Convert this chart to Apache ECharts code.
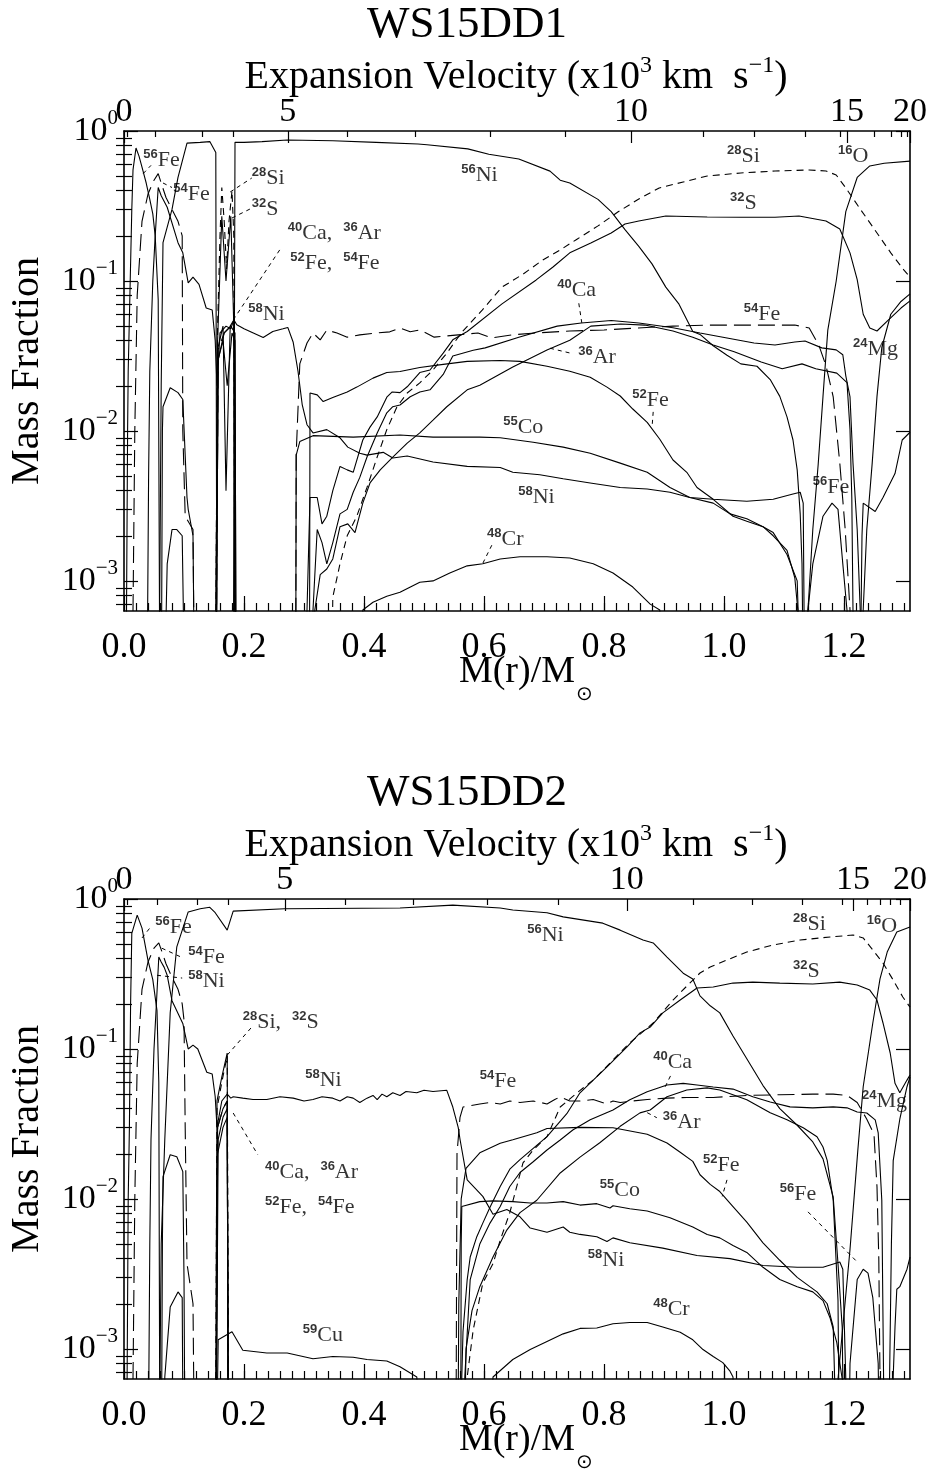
<!DOCTYPE html>
<html>
<head>
<meta charset="utf-8">
<script src="https://cdn.jsdelivr.net/npm/echarts@6/dist/echarts.min.js"></script>
<style>
html,body{margin:0;padding:0;background:#fff;}
#chart{width:935px;height:1473px;}
</style>
</head>
<body>
<div id="chart"></div>
<script>
// ---------------- axis values ----------------
const massRange = [0, 1.31];
const fracRange = [6.3e-4, 1];
const massTicks = [0, 0.2, 0.4, 0.6, 0.8, 1.0, 1.2];
const fracDecades = [1e-3, 1e-2, 1e-1, 1];
const velLabels = ['0', '5', '10', '15', '20'];
// mass coordinate of each labelled velocity (x10^3 km/s)
const velMassTop = [0, 0.273, 0.845, 1.205, 1.31];
const velMinorMassTop = [0.005, 0.052, 0.13, 0.182, 0.372, 0.485, 0.61, 0.735, 0.965, 1.05, 1.135, 1.193, 1.25, 1.278, 1.295, 1.305];
const velMassBot = [0, 0.268, 0.838, 1.215, 1.31];
const velMinorMassBot = [0.005, 0.055, 0.122, 0.173, 0.368, 0.482, 0.605, 0.723, 0.948, 1.047, 1.13, 1.197, 1.238, 1.26, 1.277, 1.293];

// ---------------- WS15DD1 abundances [M(r)/Msun, mass fraction] ----------------
const top_Ni56 = [[0.058,1e-4],[0.062,0.02],[0.065,0.18],[0.08,0.30],[0.09,0.49],[0.105,0.83],[0.127,0.84],[0.143,0.85],[0.153,0.72],[0.155,1e-4],
 [0.182,1e-4],[0.185,0.84],[0.2,0.84],[0.23,0.85],[0.272,0.87],[0.348,0.86],[0.42,0.84],[0.49,0.82],[0.505,0.81],[0.573,0.76],[0.608,0.70],[0.658,0.65],[0.71,0.54],[0.727,0.47],[0.743,0.45],[0.79,0.35],[0.812,0.29],[0.835,0.22],[0.858,0.17],[0.88,0.13],[0.903,0.091],[0.925,0.07],[0.948,0.046],[0.96,0.044],[0.982,0.037],[1.005,0.032],[1.028,0.028],[1.055,0.027],[1.077,0.022],[1.093,0.017],[1.105,0.0124],[1.115,0.0087],[1.122,0.0055],[1.127,0.0028],[1.13,0.0013],[1.133,1e-4]];
const top_Si28 = [[0.152,1e-4],[0.156,0.05],[0.16,0.2],[0.163,0.42],[0.167,0.25],[0.171,0.12],[0.175,0.25],[0.18,0.4],[0.183,0.2],[0.185,1e-4],
 [0.345,1e-4],[0.348,7.8e-4],[0.36,0.0013],[0.372,0.002],[0.388,0.0027],[0.405,0.0042],[0.422,0.0067],[0.438,0.0102],[0.455,0.0145],[0.472,0.0179],[0.493,0.0209],[0.515,0.0255],[0.538,0.033],[0.562,0.045],[0.597,0.064],[0.63,0.091],[0.665,0.111],[0.698,0.138],[0.727,0.161],[0.755,0.19],[0.79,0.233],[0.823,0.288],[0.858,0.352],[0.892,0.417],[0.932,0.457],[0.972,0.501],[1.028,0.525],[1.085,0.541],[1.142,0.55],[1.17,0.541],[1.187,0.509],[1.203,0.417],[1.227,0.302],[1.255,0.209],[1.278,0.154],[1.3,0.118],[1.31,0.106]];
const top_S32 = [[0.152,1e-4],[0.156,0.04],[0.163,0.27],[0.17,0.1],[0.178,0.27],[0.183,0.05],[0.185,1e-4],
 [0.304,1e-4],[0.305,6.4e-4],[0.31,0.0036],[0.322,0.0036],[0.33,0.0024],[0.338,0.0027],[0.348,0.004],[0.36,0.0058],[0.372,0.0055],[0.382,0.0053],[0.398,0.0087],[0.41,0.0106],[0.422,0.0124],[0.438,0.0168],[0.447,0.0182],[0.46,0.018],[0.472,0.0197],[0.493,0.0245],[0.51,0.0255],[0.532,0.033],[0.548,0.0405],[0.572,0.046],[0.63,0.0703],[0.687,0.1016],[0.715,0.124],[0.743,0.154],[0.778,0.179],[0.812,0.209],[0.835,0.24],[0.858,0.251],[0.903,0.271],[0.972,0.267],[1.028,0.266],[1.085,0.266],[1.125,0.271],[1.17,0.251],[1.193,0.222],[1.21,0.154],[1.222,0.102],[1.232,0.06],[1.243,0.0486],[1.255,0.0464],[1.272,0.054],[1.295,0.066],[1.31,0.0736]];
const top_Ca40 = [[0.152,1e-4],[0.156,0.035],[0.165,0.05],[0.17,0.004],[0.177,0.05],[0.183,0.055],[0.186,1e-4],
 [0.314,1e-4],[0.315,6.4e-4],[0.322,0.0022],[0.33,0.0018],[0.338,0.0013],[0.348,0.0018],[0.36,0.0028],[0.372,0.003],[0.382,0.0039],[0.393,0.0049],[0.405,0.0067],[0.422,0.0097],[0.438,0.0132],[0.448,0.0145],[0.46,0.0149],[0.477,0.0169],[0.493,0.0182],[0.51,0.0188],[0.532,0.0238],[0.548,0.0316],[0.582,0.0345],[0.602,0.0358],[0.658,0.0422],[0.722,0.05],[0.762,0.0525],[0.812,0.0545],[0.858,0.0525],[0.915,0.0487],[0.96,0.045],[1.005,0.0417],[1.05,0.0386],[1.085,0.0374],[1.118,0.0392],[1.135,0.0398],[1.163,0.0358],[1.187,0.0347],[1.198,0.0322],[1.203,0.0233],[1.21,0.0169],[1.215,0.0061],[1.222,0.0022],[1.227,6.4e-4],[1.23,1e-4]];
const top_Ar36 = [[0.153,1e-4],[0.157,0.03],[0.167,0.045],[0.178,0.05],[0.185,0.045],[0.187,1e-4],
 [0.317,1e-4],[0.318,6.4e-4],[0.327,0.0011],[0.338,0.0012],[0.348,0.0014],[0.36,0.0023],[0.373,0.0024],[0.385,0.0021],[0.398,0.0033],[0.41,0.0045],[0.427,0.0055],[0.448,0.0067],[0.472,0.0083],[0.493,0.0097],[0.515,0.0118],[0.538,0.0145],[0.572,0.0188],[0.593,0.0202],[0.648,0.0267],[0.705,0.0346],[0.743,0.0402],[0.778,0.05],[0.828,0.0516],[0.868,0.0508],[0.915,0.0464],[0.948,0.0422],[0.982,0.0374],[1.017,0.0337],[1.062,0.0288],[1.097,0.026],[1.13,0.028],[1.153,0.026],[1.188,0.0243],[1.205,0.021],[1.21,0.0102],[1.213,0.0036],[1.215,6.4e-4],[1.218,1e-4]];
const top_Fe52 = [[0.153,1e-4],[0.157,0.03],[0.165,0.04],[0.172,0.02],[0.18,0.045],[0.185,0.04],[0.187,1e-4],
 [0.309,1e-4],[0.31,0.0179],[0.322,0.0174],[0.332,0.0157],[0.348,0.0167],[0.372,0.0182],[0.388,0.0196],[0.415,0.0225],[0.438,0.0245],[0.46,0.0249],[0.493,0.0265],[0.532,0.0278],[0.572,0.0291],[0.627,0.0295],[0.66,0.0291],[0.705,0.027],[0.743,0.025],[0.777,0.0228],[0.805,0.0196],[0.827,0.0171],[0.848,0.014],[0.872,0.0114],[0.893,0.0088],[0.915,0.0064],[0.938,0.0053],[0.955,0.0042],[0.982,0.0035],[1.015,0.0027],[1.038,0.0025],[1.065,0.0023],[1.082,0.002],[1.105,0.0016],[1.118,0.00105],[1.123,6.4e-4],[1.126,1e-4]];
const top_Fe54 = [[0.013,1e-4],[0.018,0.01],[0.022,0.08],[0.03,0.25],[0.04,0.38],[0.05,0.47],[0.057,0.52],[0.062,0.45],[0.07,0.36],[0.08,0.3],[0.09,0.25],[0.097,0.2],[0.098,0.01],[0.102,0.0027],[0.115,0.0022],[0.118,1e-4],
 [0.153,1e-4],[0.157,0.035],[0.167,0.045],[0.178,0.05],[0.184,0.045],[0.186,1e-4],
 [0.286,1e-4],[0.287,0.007],[0.293,0.028],[0.305,0.0386],[0.315,0.045],[0.327,0.0405],[0.338,0.047],[0.355,0.045],[0.372,0.0422],[0.393,0.0437],[0.422,0.045],[0.443,0.0458],[0.46,0.0486],[0.477,0.0458],[0.493,0.0472],[0.517,0.0422],[0.557,0.0437],[0.59,0.045],[0.613,0.0417],[0.647,0.0437],[0.687,0.045],[0.743,0.0464],[0.8,0.0471],[0.857,0.0486],[0.915,0.05],[0.972,0.0508],[1.028,0.0508],[1.085,0.0508],[1.118,0.0508],[1.142,0.0486],[1.158,0.0374],[1.17,0.0272],[1.182,0.0169],[1.193,0.0061],[1.202,0.0022],[1.21,6.4e-4],[1.213,1e-4]];
const top_Ni58 = [[0.038,1e-4],[0.041,0.005],[0.043,0.025],[0.048,0.1],[0.052,0.2],[0.057,0.42],[0.062,0.37],[0.072,0.31],[0.09,0.18],[0.098,0.154],[0.107,0.097],[0.115,0.106],[0.125,0.095],[0.137,0.066],[0.147,0.064],[0.152,0.04],[0.155,0.02],[0.16,0.045],[0.17,0.05],[0.178,0.048],[0.183,0.055],[0.188,0.051],[0.2,0.048],[0.232,0.042],[0.248,0.046],[0.265,0.048],[0.273,0.049],[0.282,0.039],[0.29,0.025],[0.297,0.015],[0.305,0.011],[0.315,0.0097],[0.338,0.0102],[0.36,0.009],[0.373,0.0078],[0.393,0.0071],[0.405,0.0069],[0.432,0.0072],[0.448,0.0066],[0.472,0.0068],[0.515,0.0062],[0.572,0.0058],[0.627,0.0057],[0.648,0.0053],[0.693,0.0051],[0.732,0.0048],[0.777,0.0045],[0.827,0.0042],[0.872,0.0041],[0.91,0.0039],[0.943,0.0036],[0.982,0.0035],[1.038,0.0034],[1.082,0.0035],[1.115,0.0038],[1.127,0.0039],[1.132,0.0033],[1.135,1e-4]];
const top_Co55 = [[0.286,1e-4],[0.287,0.0069],[0.293,0.0085],[0.315,0.0093],[0.382,0.0091],[0.46,0.0094],[0.515,0.0091],[0.593,0.0091],[0.627,0.009],[0.682,0.0084],[0.732,0.0078],[0.777,0.0071],[0.827,0.0061],[0.872,0.0053],[0.91,0.0042],[0.943,0.0036],[0.982,0.0033],[1.01,0.0028],[1.038,0.0026],[1.065,0.0023],[1.082,0.0021],[1.105,0.0015],[1.122,0.001],[1.13,1e-4]];
const top_Cr48 = [[0.39,1e-4],[0.398,6.4e-4],[0.415,7.2e-4],[0.438,7.9e-4],[0.46,8.4e-4],[0.493,9.8e-4],[0.515,1.0e-3],[0.543,1.13e-3],[0.572,1.26e-3],[0.598,1.3e-3],[0.627,1.4e-3],[0.66,1.45e-3],[0.705,1.45e-3],[0.743,1.42e-3],[0.782,1.3e-3],[0.815,1.13e-3],[0.848,9.1e-4],[0.877,7.0e-4],[0.893,6.4e-4],[0.9,1e-4]];
const top_Fe56 = [[0.003,1e-4],[0.006,0.01],[0.007,0.025],[0.013,0.3],[0.015,0.55],[0.02,0.77],[0.025,0.68],[0.03,0.575],[0.037,0.45],[0.043,0.35],[0.048,0.28],[0.052,0.2],[0.057,0.075],[0.06,1e-4],
 [1.136,1e-4],[1.14,6.4e-4],[1.148,0.0013],[1.165,0.0027],[1.18,0.0033],[1.19,0.003],[1.198,0.0013],[1.205,6.4e-4],[1.21,1e-4]];
const top_O16 = [[1.135,1e-4],[1.14,6.4e-4],[1.148,0.0022],[1.157,0.006],[1.165,0.017],[1.173,0.047],[1.187,0.10],[1.203,0.29],[1.222,0.49],[1.243,0.585],[1.267,0.61],[1.31,0.63]];
const top_Mg24 = [[1.228,1e-4],[1.232,6.4e-4],[1.238,0.0022],[1.247,0.0061],[1.255,0.017],[1.263,0.036],[1.278,0.06],[1.295,0.073],[1.31,0.082]];
const top_minorA = [[0.062,1e-4],[0.064,0.01],[0.065,0.0145],[0.077,0.0194],[0.09,0.018],[0.098,0.0162],[0.105,0.0036],[0.107,0.003],[0.115,0.002],[0.118,1e-4]];
const top_minorB = [[0.066,1e-4],[0.072,0.0013],[0.08,0.0022],[0.088,0.0022],[0.097,0.002],[0.102,1e-4]];
const top_minorC = [[1.226,1e-4],[1.23,0.002],[1.232,0.0033],[1.252,0.0029],[1.265,0.0036],[1.285,0.0052],[1.297,0.0087],[1.31,0.0098]];

// ---------------- WS15DD2 abundances ----------------
const bot_Ni56 = [[0.058,1e-4],[0.062,0.005],[0.068,0.025],[0.077,0.174],[0.088,0.48],[0.107,0.82],[0.127,0.86],[0.143,0.88],[0.152,0.81],[0.172,0.62],[0.182,0.83],[0.268,0.86],[0.46,0.87],[0.548,0.91],[0.627,0.87],[0.648,0.845],[0.705,0.81],[0.732,0.76],[0.798,0.69],[0.827,0.62],[0.865,0.533],[0.882,0.509],[0.905,0.41],[0.932,0.32],[0.948,0.293],[0.96,0.226],[0.977,0.194],[0.993,0.174],[1.015,0.122],[1.038,0.086],[1.065,0.057],[1.093,0.04],[1.122,0.031],[1.148,0.024],[1.165,0.0185],[1.182,0.0103],[1.19,0.0037],[1.197,0.0014],[1.198,6.3e-4],[1.2,1e-4]];
const bot_Si28 = [[0.152,1e-4],[0.155,0.04],[0.163,0.06],[0.172,0.09],[0.175,1e-4],
 [0.57,1e-4],[0.572,6.5e-4],[0.582,0.00134],[0.598,0.00275],[0.615,0.0037],[0.627,0.0053],[0.643,0.0081],[0.665,0.0174],[0.682,0.0212],[0.705,0.026],[0.727,0.041],[0.755,0.051],[0.782,0.062],[0.815,0.0845],[0.843,0.11],[0.882,0.149],[0.915,0.212],[0.943,0.275],[0.96,0.321],[0.977,0.352],[1.005,0.392],[1.038,0.443],[1.082,0.494],[1.127,0.533],[1.177,0.558],[1.215,0.575],[1.232,0.55],[1.248,0.457],[1.265,0.374],[1.282,0.288],[1.298,0.222],[1.31,0.19]];
const bot_S32 = [[0.152,1e-4],[0.155,0.045],[0.163,0.065],[0.172,0.094],[0.174,1e-4],
 [0.562,1e-4],[0.563,6.5e-4],[0.565,0.0013],[0.572,0.0029],[0.577,0.0041],[0.588,0.0056],[0.598,0.0069],[0.61,0.0088],[0.627,0.0121],[0.643,0.0158],[0.66,0.0183],[0.705,0.026],[0.738,0.037],[0.76,0.051],[0.805,0.076],[0.838,0.103],[0.86,0.128],[0.877,0.14],[0.898,0.174],[0.927,0.212],[0.955,0.255],[0.982,0.259],[1.015,0.275],[1.048,0.279],[1.093,0.275],[1.148,0.271],[1.193,0.279],[1.222,0.267],[1.243,0.247],[1.255,0.212],[1.265,0.149],[1.277,0.094],[1.285,0.059],[1.293,0.051],[1.305,0.062],[1.31,0.067]];
const bot_Ca40 = [[0.153,1e-4],[0.156,0.03],[0.165,0.04],[0.172,0.045],[0.174,1e-4],
 [0.567,1e-4],[0.568,6.5e-4],[0.577,0.0029],[0.593,0.005],[0.61,0.0069],[0.627,0.0089],[0.643,0.0121],[0.66,0.015],[0.682,0.0177],[0.705,0.0212],[0.727,0.0247],[0.748,0.0288],[0.777,0.0337],[0.815,0.0392],[0.843,0.0458],[0.872,0.0518],[0.905,0.0575],[0.932,0.059],[0.955,0.0575],[0.982,0.0558],[1.015,0.054],[1.048,0.048],[1.077,0.0443],[1.11,0.0411],[1.148,0.0405],[1.182,0.0411],[1.205,0.0405],[1.222,0.038],[1.238,0.0374],[1.252,0.0337],[1.257,0.0276],[1.263,0.0098],[1.268,1e-4]];
const bot_Ar36 = [[0.153,1e-4],[0.157,0.025],[0.165,0.035],[0.172,0.04],[0.174,1e-4],
 [0.566,1e-4],[0.57,0.001],[0.58,0.0018],[0.593,0.0026],[0.615,0.0041],[0.638,0.0062],[0.66,0.0081],[0.688,0.0098],[0.727,0.0149],[0.76,0.019],[0.793,0.0237],[0.827,0.0305],[0.86,0.0375],[0.877,0.0392],[0.905,0.048],[0.938,0.0533],[0.972,0.055],[0.993,0.0533],[1.038,0.0458],[1.077,0.0375],[1.105,0.0337],[1.132,0.0298],[1.155,0.026],[1.165,0.0222],[1.172,0.0181],[1.182,0.0098],[1.19,0.0021],[1.193,1e-4]];
const bot_Fe52 = [[0.153,1e-4],[0.156,0.02],[0.165,0.03],[0.172,0.035],[0.174,1e-4],
 [0.556,1e-4],[0.558,0.002],[0.562,0.01],[0.57,0.016],[0.593,0.0203],[0.627,0.0235],[0.648,0.0248],[0.688,0.0276],[0.705,0.0295],[0.76,0.03],[0.815,0.0298],[0.872,0.027],[0.905,0.0236],[0.927,0.0205],[0.948,0.0178],[0.96,0.0145],[0.977,0.0125],[0.993,0.0112],[1.015,0.0089],[1.038,0.007],[1.065,0.0051],[1.093,0.0039],[1.122,0.003],[1.143,0.0026],[1.155,0.0024],[1.172,0.002],[1.182,0.0014],[1.19,1e-4]];
const bot_Fe54 = [[0.013,1e-4],[0.018,0.01],[0.022,0.08],[0.03,0.25],[0.04,0.38],[0.05,0.47],[0.058,0.51],[0.062,0.46],[0.07,0.37],[0.08,0.3],[0.09,0.25],[0.097,0.2],[0.1,0.156],[0.102,0.03],[0.105,0.0037],[0.115,0.002],[0.118,1e-4],
 [0.153,1e-4],[0.156,0.03],[0.165,0.04],[0.172,0.045],[0.174,1e-4],
 [0.553,1e-4],[0.555,0.02],[0.56,0.035],[0.565,0.041],[0.593,0.043],[0.61,0.044],[0.627,0.043],[0.643,0.045],[0.66,0.044],[0.682,0.045],[0.705,0.043],[0.718,0.046],[0.727,0.048],[0.743,0.045],[0.76,0.045],[0.782,0.046],[0.805,0.043],[0.815,0.045],[0.827,0.044],[0.848,0.045],[0.872,0.046],[0.905,0.047],[0.938,0.0475],[0.982,0.0475],[1.038,0.049],[1.093,0.0495],[1.148,0.05],[1.182,0.05],[1.205,0.049],[1.222,0.044],[1.238,0.034],[1.25,0.027],[1.255,0.012],[1.258,0.004],[1.262,1e-4]];
const bot_Ni58 = [[0.04,1e-4],[0.043,0.005],[0.045,0.025],[0.05,0.1],[0.054,0.2],[0.058,0.41],[0.062,0.38],[0.067,0.35],[0.072,0.31],[0.08,0.21],[0.098,0.148],[0.107,0.1],[0.115,0.106],[0.123,0.1],[0.138,0.07],[0.147,0.068],[0.152,0.048],[0.155,0.03],[0.163,0.045],[0.172,0.05],[0.178,0.047],[0.182,0.048],[0.198,0.047],[0.215,0.046],[0.238,0.046],[0.26,0.048],[0.282,0.047],[0.3,0.045],[0.315,0.046],[0.33,0.048],[0.348,0.047],[0.36,0.045],[0.372,0.048],[0.382,0.047],[0.393,0.044],[0.405,0.047],[0.415,0.049],[0.422,0.046],[0.43,0.05],[0.438,0.048],[0.448,0.051],[0.46,0.049],[0.47,0.052],[0.488,0.051],[0.5,0.053],[0.515,0.052],[0.538,0.053],[0.548,0.041],[0.557,0.03],[0.56,0.025],[0.572,0.0134],[0.598,0.0104],[0.615,0.0079],[0.638,0.0085],[0.66,0.0076],[0.677,0.0064],[0.705,0.006],[0.732,0.0065],[0.743,0.006],[0.76,0.0058],[0.788,0.0056],[0.805,0.0052],[0.815,0.0055],[0.843,0.0051],[0.898,0.0047],[0.955,0.0042],[1.01,0.004],[1.065,0.0036],[1.122,0.0035],[1.165,0.0035],[1.193,0.0038],[1.198,0.0034],[1.203,6.3e-4],[1.205,1e-4]];
const bot_Co55 = [[0.561,1e-4],[0.562,0.005],[0.563,0.0089],[0.593,0.0096],[0.615,0.0097],[0.648,0.0096],[0.677,0.0094],[0.705,0.0094],[0.732,0.0096],[0.76,0.0091],[0.788,0.0093],[0.81,0.0087],[0.815,0.009],[0.843,0.0086],[0.872,0.0083],[0.91,0.0075],[0.948,0.0065],[0.972,0.0058],[0.993,0.0055],[1.015,0.0049],[1.038,0.0044],[1.065,0.0035],[1.093,0.0029],[1.122,0.0026],[1.148,0.0024],[1.165,0.0021],[1.177,0.0016],[1.188,0.0011],[1.197,6.3e-4],[1.2,1e-4]];
const bot_Cr48 = [[0.605,1e-4],[0.615,6.5e-4],[0.648,8.5e-4],[0.677,9.9e-4],[0.705,0.00112],[0.732,0.00126],[0.76,0.00137],[0.788,0.00138],[0.815,0.00147],[0.843,0.0015],[0.872,0.0015],[0.898,0.0014],[0.927,0.00129],[0.948,0.00115],[0.965,0.00099],[0.982,0.00089],[0.998,0.00081],[1.01,0.00071],[1.015,0.00065],[1.02,1e-4]];
const bot_Fe56 = [[0.004,1e-4],[0.007,0.01],[0.009,0.03],[0.011,0.2],[0.013,0.59],[0.022,0.78],[0.03,0.64],[0.04,0.39],[0.048,0.29],[0.055,0.18],[0.058,0.06],[0.06,1e-4],
 [1.207,1e-4],[1.21,8e-4],[1.222,0.0029],[1.232,0.0034],[1.24,0.0032],[1.248,0.0022],[1.257,8e-4],[1.26,1e-4]];
const bot_O16 = [[1.185,1e-4],[1.19,6.3e-4],[1.21,0.0046],[1.223,0.021],[1.232,0.056],[1.248,0.149],[1.26,0.293],[1.272,0.443],[1.288,0.603],[1.31,0.65]];
const bot_Mg24 = [[1.272,1e-4],[1.276,6.5e-4],[1.279,0.005],[1.282,0.018],[1.293,0.034],[1.305,0.056],[1.31,0.065]];
const bot_Cu59 = [[0.153,1e-4],[0.157,0.00115],[0.18,0.0013],[0.198,0.00098],[0.238,0.00094],[0.272,0.00094],[0.315,0.00086],[0.348,0.00089],[0.382,0.00088],[0.405,0.00085],[0.438,0.00083],[0.46,0.00076],[0.488,0.00065],[0.5,1e-4]];
const bot_minorA = [[0.062,1e-4],[0.064,0.005],[0.065,0.0141],[0.077,0.0197],[0.088,0.0191],[0.098,0.0152],[0.1,0.003],[0.102,1e-4]];
const bot_minorB = [[0.066,1e-4],[0.068,6.5e-4],[0.077,0.0019],[0.09,0.0024],[0.097,0.0022],[0.099,1e-4]];
const bot_minorC = [[1.28,1e-4],[1.282,6.5e-4],[1.285,0.0014],[1.288,0.0025],[1.293,0.0026],[1.305,0.0034],[1.31,0.0041]];

// ---------------- curve labels: [mass, fraction, [[A, symbol], ...]] ----------------
const topLabels = [
  [0.032, 0.64, [['56','Fe']]], [0.082, 0.38, [['54','Fe']]],
  [0.213, 0.486, [['28','Si']]], [0.213, 0.302, [['32','S']]],
  [0.273, 0.209, [['40','Ca,  '],['36','Ar']]], [0.277, 0.132, [['52','Fe,  '],['54','Fe']]],
  [0.207, 0.0603, [['58','Ni']]], [0.562, 0.509, [['56','Ni']]],
  [1.005, 0.681, [['28','Si']]], [1.19, 0.681, [['16','O']]], [1.01, 0.331, [['32','S']]],
  [0.722, 0.087, [['40','Ca']]], [1.033, 0.0603, [['54','Fe']]], [0.757, 0.0311, [['36','Ar']]],
  [1.215, 0.0352, [['24','Mg']]], [0.847, 0.0161, [['52','Fe']]], [0.632, 0.0106, [['55','Co']]],
  [0.657, 0.00363, [['58','Ni']]], [0.605, 0.0019, [['48','Cr']]], [1.148, 0.00423, [['56','Fe']]]
];
const botLabels = [
  [0.052, 0.65, [['56','Fe']]], [0.107, 0.41, [['54','Fe']]], [0.107, 0.284, [['58','Ni']]],
  [0.198, 0.151, [['28','Si,  '],['32','S']]], [0.302, 0.0621, [['58','Ni']]], [0.593, 0.0612, [['54','Fe']]],
  [0.235, 0.0151, [['40','Ca,  '],['36','Ar']]], [0.235, 0.00885, [['52','Fe,  '],['54','Fe']]],
  [0.298, 0.00124, [['59','Cu']]], [0.672, 0.575, [['56','Ni']]],
  [1.115, 0.681, [['28','Si']]], [1.238, 0.66, [['16','O']]], [1.115, 0.331, [['32','S']]],
  [0.882, 0.0819, [['40','Ca']]], [0.898, 0.0326, [['36','Ar']]], [1.23, 0.045, [['24','Mg']]],
  [0.965, 0.0169, [['52','Fe']]], [0.793, 0.0115, [['55','Co']]], [1.093, 0.0108, [['56','Fe']]],
  [0.773, 0.00392, [['58','Ni']]], [0.882, 0.00185, [['48','Cr']]]
];
// dashed pointer segments from labels to curves
const topLeaders = [
  [[0.032,0.52],[0.045,0.59]], [[0.065,0.45],[0.08,0.42]],
  [[0.177,0.392],[0.213,0.486]], [[0.18,0.263],[0.213,0.306]],
  [[0.182,0.055],[0.263,0.169]], [[0.758,0.071],[0.763,0.0525]],
  [[0.71,0.0356],[0.743,0.0331]], [[0.882,0.0134],[0.88,0.0105]],
  [[0.613,0.00173],[0.598,0.00131]]
];
const botLeaders = [
  [[0.03,0.55],[0.043,0.64]], [[0.063,0.47],[0.098,0.405]], [[0.055,0.31],[0.097,0.297]],
  [[0.172,0.091],[0.213,0.14]], [[0.182,0.0374],[0.223,0.0197]],
  [[0.902,0.056],[0.913,0.0689]], [[0.872,0.0376],[0.888,0.0348]],
  [[1.005,0.0134],[0.997,0.0104]], [[1.14,0.0082],[1.222,0.0038]]
];

// ---------------- chart construction ----------------
const SERIF = '"Liberation Serif", "DejaVu Serif", serif';
const panels = [
  { curves: [
      [top_Ni56,'solid'],[top_Si28,'dash'],[top_S32,'solid'],[top_Ca40,'solid'],[top_Ar36,'solid'],
      [top_Fe52,'solid'],[top_Fe54,'long'],[top_Ni58,'solid'],[top_Co55,'solid'],[top_Cr48,'solid'],
      [top_Fe56,'solid'],[top_O16,'solid'],[top_Mg24,'solid'],[top_minorA,'solid'],[top_minorB,'solid'],[top_minorC,'solid']],
    labels: topLabels, leaders: topLeaders, velMass: velMassTop, velMinor: velMinorMassTop },
  { curves: [
      [bot_Ni56,'solid'],[bot_Si28,'dash'],[bot_S32,'solid'],[bot_Ca40,'solid'],[bot_Ar36,'solid'],
      [bot_Fe52,'solid'],[bot_Fe54,'long'],[bot_Ni58,'solid'],[bot_Co55,'solid'],[bot_Cr48,'solid'],
      [bot_Fe56,'solid'],[bot_O16,'solid'],[bot_Mg24,'solid'],[bot_Cu59,'solid'],
      [bot_minorA,'solid'],[bot_minorB,'solid'],[bot_minorC,'solid']],
    labels: botLabels, leaders: botLeaders, velMass: velMassBot, velMinor: velMinorMassBot }
];

const massMinor = [];
for (let i = 0; i <= 65; i++) { const v = +(i * 0.02).toFixed(2); if (v <= massRange[1]) massMinor.push(v); }
const fracMinor = [];
[1e-4, 1e-3, 1e-2, 1e-1].forEach(d => { for (let k = 2; k <= 9; k++) fracMinor.push(+(k * d).toPrecision(2)); });

const PANEL_TOP = [131, 899];
const grids = [], xAxes = [], yAxes = [], series = [];
const frameLine = { show: true, onZero: false, lineStyle: { color: '#000', width: 1.6 } };
const tickStyle = { color: '#000', width: 1.2 };

panels.forEach((p, gi) => {
  grids.push({ left: 124, top: PANEL_TOP[gi], width: 786, height: 480, containLabel: false });
  const xBase = { gridIndex: gi, type: 'value', min: massRange[0], max: massRange[1], splitLine: { show: false } };
  // bottom: M(r)/Msun
  xAxes.push(Object.assign({}, xBase, { position: 'bottom', axisLine: frameLine,
    axisTick: { inside: true, length: 15, customValues: massTicks, lineStyle: tickStyle },
    axisLabel: { customValues: massTicks, formatter: v => v.toFixed(1), margin: 20, color: '#000',
      fontFamily: SERIF, fontSize: 36, lineHeight: 34 } }));
  xAxes.push(Object.assign({}, xBase, { position: 'bottom', axisLine: { show: false, onZero: false },
    axisTick: { inside: true, length: 8, customValues: massMinor, lineStyle: tickStyle }, axisLabel: { show: false } }));
  // top: expansion velocity
  const vm = p.velMass;
  xAxes.push(Object.assign({}, xBase, { position: 'top', axisLine: frameLine,
    axisTick: { inside: true, length: 12, customValues: vm, lineStyle: tickStyle },
    axisLabel: { customValues: vm, margin: 2, color: '#000', fontFamily: SERIF, fontSize: 34, lineHeight: 34,
      formatter: v => { let best = 0; vm.forEach((m, i) => { if (Math.abs(m - v) < Math.abs(vm[best] - v)) best = i; }); return velLabels[best]; } } }));
  xAxes.push(Object.assign({}, xBase, { position: 'top', axisLine: { show: false, onZero: false },
    axisTick: { inside: true, length: 6, customValues: p.velMinor, lineStyle: tickStyle }, axisLabel: { show: false } }));

  const yBase = { gridIndex: gi, type: 'log', logBase: 10, min: fracRange[0], max: fracRange[1], splitLine: { show: false } };
  yAxes.push(Object.assign({}, yBase, { position: 'left', axisLine: frameLine,
    axisTick: { inside: true, length: 14, customValues: fracDecades, lineStyle: tickStyle },
    axisLabel: { customValues: fracDecades, margin: 6, color: '#000',
      formatter: v => { const e = Math.round(Math.log10(v)); return '{b|10}{s|' + (e < 0 ? '\u2212' + (-e) : e) + '}'; },
      rich: { b: { fontFamily: SERIF, fontSize: 34, lineHeight: 46, color: '#000' },
              s: { fontFamily: SERIF, fontSize: 21, lineHeight: 20, verticalAlign: 'top', color: '#000' } } } }));
  yAxes.push(Object.assign({}, yBase, { position: 'left', axisLine: { show: false },
    axisTick: { inside: true, length: 8, customValues: fracMinor, lineStyle: tickStyle }, axisLabel: { show: false } }));
  yAxes.push(Object.assign({}, yBase, { position: 'right', axisLine: frameLine,
    axisTick: { inside: true, length: 14, customValues: fracDecades, lineStyle: tickStyle }, axisLabel: { show: false } }));
  yAxes.push(Object.assign({}, yBase, { position: 'right', axisLine: { show: false },
    axisTick: { inside: true, length: 8, customValues: fracMinor, lineStyle: tickStyle }, axisLabel: { show: false } }));

  const xi = gi * 4, yi = gi * 4;
  const dashOf = { solid: 'solid', dash: [7, 5], long: [17, 7] };
  p.curves.forEach(([data, style]) => {
    series.push({ type: 'line', xAxisIndex: xi, yAxisIndex: yi, data: data, symbol: 'none', showSymbol: false,
      silent: true, clip: true, lineStyle: { color: '#000', width: 1.1, type: dashOf[style] } });
  });
  p.leaders.forEach(seg => {
    series.push({ type: 'line', xAxisIndex: xi, yAxisIndex: yi, data: seg, symbol: 'none', silent: true, clip: true,
      lineStyle: { color: '#000', width: 1, type: [4, 4] } });
  });
  series.push({ type: 'scatter', xAxisIndex: xi, yAxisIndex: yi, symbolSize: 0, silent: true, z: 5,
    data: p.labels.map(l => ({ value: [l[0], l[1]], name: l[2].map(t => '{m|' + t[0] + '}{e|' + t[1] + '}').join('') })),
    label: { show: true, position: 'right', distance: 0, formatter: q => q.name,
      rich: { m: { fontFamily: '"Liberation Sans", Arial, sans-serif', fontWeight: 'bold', fontSize: 13, lineHeight: 12, verticalAlign: 'top', color: '#000' },
              e: { fontFamily: SERIF, fontSize: 22, lineHeight: 24, color: '#000' } } } });
});

// titles and axis names
const graphics = [];
['WS15DD1', 'WS15DD2'].forEach((t, gi) => {
  const off = gi * 768;
  graphics.push({ type: 'text', x: 467, y: 25 + off, style: { text: t, font: '45px ' + SERIF, fill: '#000', align: 'center', verticalAlign: 'middle' } });
  graphics.push({ type: 'text', x: 516, y: 77 + off, style: {
    text: '{a|Expansion Velocity (x10}{s|3}{a| km  s}{s|\u22121}{a|)}', align: 'center', verticalAlign: 'middle',
    rich: { a: { font: '40px ' + SERIF, fill: '#000', lineHeight: 46 },
            s: { font: '24px ' + SERIF, fill: '#000', lineHeight: 24, verticalAlign: 'top' } } } });
  graphics.push({ type: 'text', x: 27, y: 371 + off, rotation: Math.PI / 2, style: { text: 'Mass Fraction', font: '40px ' + SERIF, fill: '#000', align: 'center', verticalAlign: 'middle' } });
  graphics.push({ type: 'text', x: 575, y: 672 + off, style: { text: 'M(r)/M', font: '38px ' + SERIF, fill: '#000', align: 'right', verticalAlign: 'middle' } });
  graphics.push({ type: 'text', x: 576, y: 695 + off, style: { text: '\u2299', font: '20px "DejaVu Sans", sans-serif', fill: '#000', align: 'left', verticalAlign: 'middle' } });
});

const chart = echarts.init(document.getElementById('chart'), null, { renderer: 'canvas' });
chart.setOption({
  animation: false,
  backgroundColor: '#fff',
  grid: grids,
  xAxis: xAxes,
  yAxis: yAxes,
  series: series,
  graphic: graphics
});
</script>
</body>
</html>
